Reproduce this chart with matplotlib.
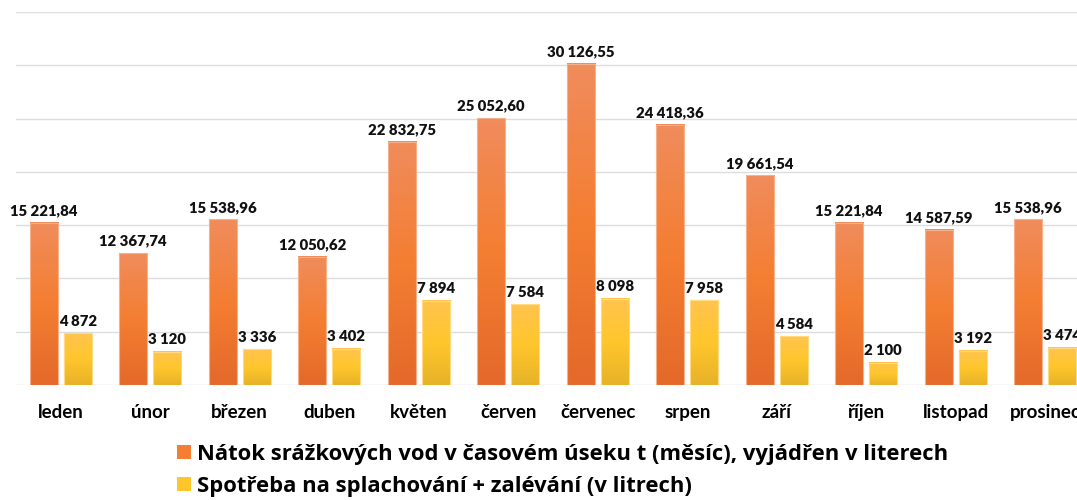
import numpy as np
import matplotlib.pyplot as plt
from matplotlib.colors import LinearSegmentedColormap
from matplotlib.patches import Patch

months = ["leden", "únor", "březen", "duben", "květen", "červen",
          "červenec", "srpen", "září", "říjen", "listopad", "prosinec"]
natok = [15221.84, 12367.74, 15538.96, 12050.62, 22832.75, 25052.60,
         30126.55, 24418.36, 19661.54, 15221.84, 14587.59, 15538.96]
spotreba = [4872, 3120, 3336, 3402, 7894, 7584, 8098, 7958, 4584, 2100, 3192, 3474]

label_natok = "Nátok srážkových vod v časovém úseku t (měsíc), vyjádřen v literech"
label_spotreba = "Spotřeba na splachování + zalévání (v litrech)"

plt.rcParams['font.family'] = ['Lato', 'DejaVu Sans']

orange_cmap = LinearSegmentedColormap.from_list(
    "og", ["#E4692A", "#F47E32", "#F08C5C"])
yellow_cmap = LinearSegmentedColormap.from_list(
    "yg", ["#E6B228", "#FFC62C", "#FFC44E"])


def fmt(v, dec):
    s = f"{v:,.{dec}f}"
    return s.replace(",", " ").replace(".", ",")


fig = plt.figure(figsize=(10.77, 5.0), dpi=100)
ax = fig.add_axes([16 / 1077, 115 / 500, 1074 / 1077, 373 / 500])

x = np.arange(len(months))
w = 0.313
off = 0.19

grad = np.linspace(0, 1, 256).reshape(-1, 1)

for vals, sign, cmap, edge, dec in [
        (natok, -1, orange_cmap, "#F6B08A", 2),
        (spotreba, 1, yellow_cmap, "#FFDA80", 0)]:
    bars = ax.bar(x + sign * off, vals, width=w, facecolor="none",
                  edgecolor=edge, linewidth=0.8, zorder=3)
    for b, v in zip(bars, vals):
        x0, y0 = b.get_x(), b.get_y()
        ax.imshow(grad, extent=[x0, x0 + b.get_width(), y0, y0 + b.get_height()],
                  origin="lower", aspect="auto", cmap=cmap, zorder=2)
        ax.annotate(fmt(v, dec), (x0 + b.get_width() / 2, v),
                    xytext=(0, 4), textcoords="offset points",
                    ha="center", va="bottom", fontsize=10.7,
                    fontweight="heavy", color="#111111")

ax.set_xlim(-0.5, len(months) - 0.5)
ax.set_ylim(0, 35000)
ax.set_yticks(np.arange(0, 35001, 5000))
ax.yaxis.grid(True, color="#DDDDDD", linewidth=1)
ax.set_axisbelow(True)
ax.tick_params(axis="y", left=False, labelleft=False)
ax.set_xticks(x)
ax.set_xticklabels(months, fontsize=13.5, fontweight="bold")
ax.tick_params(axis="x", length=0, pad=14)
for s in ax.spines.values():
    s.set_visible(False)

handles = [Patch(facecolor="#F47E32", edgecolor="none"),
           Patch(facecolor="#FFC62C", edgecolor="none")]
fig.legend(handles, [label_natok, label_spotreba], loc="upper left",
           bbox_to_anchor=(177 / 1077, 1 - 444 / 500), frameon=False,
           prop={"family": ["Open Sans", "DejaVu Sans"], "size": 15.8,
                 "weight": "bold"},
           handlelength=0.62, handleheight=0.62, handletextpad=0.3,
           labelspacing=0.5, borderaxespad=0, borderpad=0)

fig.savefig("out.png", dpi=100)
